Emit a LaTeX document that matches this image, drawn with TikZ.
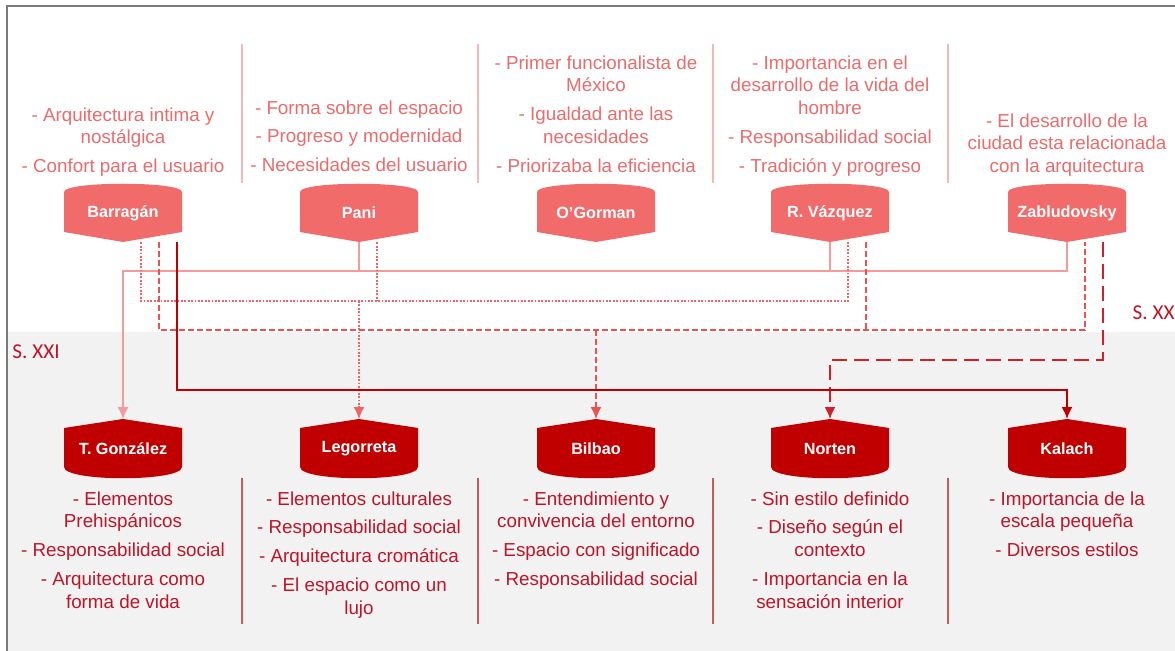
\documentclass[tikz,border=0pt]{standalone}
\usepackage{fontspec}
\setmainfont{Liberation Sans}
\newfontfamily\fuenteSiglo{Carlito}
\usetikzlibrary{arrows.meta}

\definecolor{rojoClaro}{HTML}{F26B6B}
\definecolor{rojoTexto}{HTML}{EA6B6B}
\definecolor{rosaSep}{HTML}{F5B8B8}
\definecolor{rosaLinea}{HTML}{F59A9A}
\definecolor{rojoPunto}{HTML}{EF6464}
\definecolor{rojoMedio}{HTML}{EC5252}
\definecolor{rojoOscuro}{HTML}{C00000}
\definecolor{rojoLista}{HTML}{BE1428}
\definecolor{rojoVivo}{HTML}{D21F28}
\definecolor{sepOscuro}{HTML}{C85A5A}
\definecolor{grisFondo}{HTML}{F2F2F2}
\definecolor{grisMarco}{HTML}{7A7A7A}

\begin{document}
\begin{tikzpicture}[x=0.5pt,y=-0.5pt,
    nombreSup/.style={inner sep=0pt,minimum width=59pt,minimum height=29pt,text=white,font=\fontsize{8.1}{9}\selectfont\bfseries},
    nombreInf/.style={nombreSup,minimum height=29.5pt},
    listaSup/.style={anchor=north,inner sep=0pt,align=center,text=rojoTexto,font=\fontsize{9.4}{11.4}\selectfont},
    listaInf/.style={listaSup,text=rojoLista},
    siglo/.style={inner sep=0pt,text=rojoLista,font=\fuenteSiglo\fontsize{10.6}{12}\selectfont},
    claro/.style={rosaLinea,line width=0.75pt},
    punteado/.style={rojoPunto,line width=0.9pt,dash pattern=on 0.9pt off 0.8pt},
    discontinuo/.style={rojoMedio,line width=0.85pt,dash pattern=on 3pt off 1.5pt},
    largo/.style={rojoVivo,line width=1pt,dash pattern=on 7.5pt off 3.5pt},
    oscuro/.style={rojoOscuro,line width=1pt},
    flecha/.style={-{Latex[length=6pt,width=5.5pt]}}]
    \useasboundingbox (0,0) rectangle (1175,651);

    % Fondo del S. XXI y marco
    \fill[grisFondo] (8,332) rectangle (1175,651);
    \draw[grisMarco,line width=1.2pt] (7,651) -- (7,6) -- (1175,6);

    % Separadores entre columnas
    \foreach \x in {242,478,713,948} {
        \draw[rosaSep,line width=0.75pt] (\x,44) -- (\x,183);
        \draw[sepOscuro,line width=0.75pt] (\x,478) -- (\x,624);
    }

    % Formas de las etiquetas
    \foreach \x in {123,359,596,830,1067} {
        \fill[rojoClaro] (\x-59,192) .. controls (\x-59,181) and (\x+59,181) .. (\x+59,192)
            -- (\x+59,232) -- (\x,242) -- (\x-59,232) -- cycle;
        \fill[rojoOscuro] (\x,419) -- (\x+59,428) -- (\x+59,467)
            .. controls (\x+59,482) and (\x-59,482) .. (\x-59,467) -- (\x-59,428) -- cycle;
    }

    % Arquitectos S. XX
    \node[nombreSup] (barragan) at (123,213) {Barragán};
    \node[nombreSup] (pani) at (359,213) {Pani};
    \node[nombreSup] (ogorman) at (596,213) {O’Gorman};
    \node[nombreSup] (rvazquez) at (830,213) {R. Vázquez};
    \node[nombreSup] (zabludovsky) at (1067,213) {Zabludovsky};

    % Arquitectos S. XXI
    \node[nombreInf] (tgonzalez) at (123,449) {T. González};
    \node[nombreInf] (legorreta) at (359,449) {Legorreta};
    \node[nombreInf] (bilbao) at (596,449) {Bilbao};
    \node[nombreInf] (norten) at (830,449) {Norten};
    \node[nombreInf] (kalach) at (1067,449) {Kalach};

    % Ideas de cada uno
    \node[listaSup] (t-barragan) at (123,107) {- Arquitectura intima y\\nostálgica\\[3pt]- Confort para el usuario};
    \node[listaSup] (t-pani) at (359,100) {- Forma sobre el espacio\\[3pt]- Progreso y modernidad\\[3pt]- Necesidades del usuario};
    \node[listaSup] (t-ogorman) at (596,55) {- Primer funcionalista de\\México\\[3pt]- Igualdad ante las\\necesidades\\[3pt]- Priorizaba la eficiencia};
    \node[listaSup] (t-rvazquez) at (830,55) {- Importancia en el\\desarrollo de la vida del\\hombre\\[3pt]- Responsabilidad social\\[3pt]- Tradición y progreso};
    \node[listaSup] (t-zabludovsky) at (1067,113) {- El desarrollo de la\\ciudad esta relacionada\\con la arquitectura};

    \node[listaInf] (t-tgonzalez) at (123,491) {- Elementos\\Prehispánicos\\[3pt]- Responsabilidad social\\[3pt]- Arquitectura como\\forma de vida};
    \node[listaInf] (t-legorreta) at (359,491) {- Elementos culturales\\[3pt]- Responsabilidad social\\[3pt]- Arquitectura cromática\\[3pt]- El espacio como un\\lujo};
    \node[listaInf] (t-bilbao) at (596,491) {- Entendimiento y\\convivencia del entorno\\[3pt]- Espacio con significado\\[3pt]- Responsabilidad social};
    \node[listaInf] (t-norten) at (830,491) {- Sin estilo definido\\[3pt]- Diseño según el\\contexto\\[3pt]- Importancia en la\\sensación interior};
    \node[listaInf] (t-kalach) at (1067,491) {- Importancia de la\\escala pequeña\\[3pt]- Diversos estilos};

    % Siglos
    \node[siglo,anchor=west] (sxxi) at (12,352) {S. XXI};
    \node[siglo,anchor=east] (sxx) at (1175,313) {S. XX};

    % Niveles de las lineas horizontales
    \coordinate (nivel1) at (0,271);
    \coordinate (nivel2) at (0,301);
    \coordinate (nivel3) at (0,330);
    \coordinate (nivel4) at (0,360);
    \coordinate (nivel5) at (0,390);

    % Salidas desde las etiquetas
    \coordinate (bar1) at ([xshift=9pt]barragan.south);
    \coordinate (bar2) at ([xshift=18pt]barragan.south);
    \coordinate (bar3) at ([xshift=27pt]barragan.south);
    \coordinate (pan1) at ([xshift=9pt]pani.south);
    \coordinate (rva1) at ([xshift=9pt]rvazquez.south);
    \coordinate (rva2) at ([xshift=18pt]rvazquez.south);
    \coordinate (zab1) at ([xshift=9pt]zabludovsky.south);
    \coordinate (zab2) at ([xshift=18pt]zabludovsky.south);

    % Pani, R. Vázquez y Zabludovsky -> T. González
    \draw[claro] (pani.south) -- (pani.south |- nivel1);
    \draw[claro] (rvazquez.south) -- (rvazquez.south |- nivel1);
    \draw[claro,flecha] (zabludovsky.south) -- (zabludovsky.south |- nivel1) -- (tgonzalez.north |- nivel1) -- (tgonzalez.north);

    % Barragán, Pani y R. Vázquez -> Legorreta
    \draw[punteado] (bar1) -- (bar1 |- nivel2) -- (rva1 |- nivel2) -- (rva1);
    \draw[punteado] (pan1) -- (pan1 |- nivel2);
    \draw[punteado,flecha] (legorreta.north |- nivel2) -- (legorreta.north);

    % Barragán, R. Vázquez y Zabludovsky -> Bilbao
    \draw[discontinuo] (bar2) -- (bar2 |- nivel3) -- (zab1 |- nivel3) -- (zab1);
    \draw[discontinuo] (rva2) -- (rva2 |- nivel3);
    \draw[discontinuo,flecha] (bilbao.north |- nivel3) -- (bilbao.north);

    % Zabludovsky -> Norten
    \draw[largo,flecha] (zab2) -- (zab2 |- nivel4) -- (norten.north |- nivel4) -- (norten.north);

    % Barragán -> Kalach
    \draw[oscuro,flecha] (bar3) -- (bar3 |- nivel5) -- (kalach.north |- nivel5) -- (kalach.north);
\end{tikzpicture}
\end{document}
